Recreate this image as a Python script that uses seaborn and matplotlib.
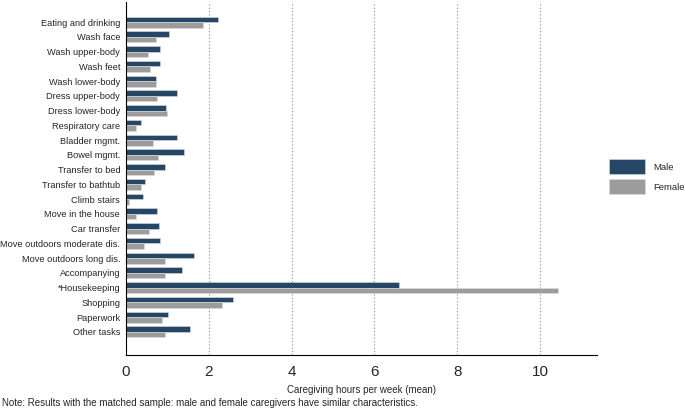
import matplotlib
matplotlib.use("Agg")
import matplotlib.pyplot as plt
import seaborn as sns
import pandas as pd

categories = ["Eating and drinking", "Wash face", "Wash upper-body", "Wash feet",
              "Wash lower-body", "Dress upper-body", "Dress lower-body", "Respiratory care",
              "Bladder mgmt.", "Bowel mgmt.", "Transfer to bed", "Transfer to bathtub",
              "Climb stairs", "Move in the house", "Car transfer",
              "Move outdoors moderate dis.", "Move outdoors long dis.", "Accompanying",
              "*Housekeeping", "Shopping", "Paperwork", "Other tasks"]
male = [2.22, 1.05, 0.83, 0.82, 0.72, 1.22, 0.97, 0.37, 1.22, 1.40, 0.95, 0.45,
        0.42, 0.76, 0.79, 0.82, 1.64, 1.34, 6.59, 2.58, 1.01, 1.54]
female = [1.86, 0.73, 0.52, 0.59, 0.72, 0.75, 0.98, 0.23, 0.65, 0.78, 0.68, 0.37,
          0.08, 0.25, 0.56, 0.44, 0.95, 0.93, 10.43, 2.33, 0.88, 0.95]
groups = ["Male", "Female"]
colors = ["#1a476f", "#9c9c9c"]
x_ticks = [0, 2, 4, 6, 8, 10]

df = pd.DataFrame({
    "task": categories * 2,
    "hours": male + female,
    "sex": ["Male"] * len(categories) + ["Female"] * len(categories),
})

sns.set_style("white")
plt.rcParams["font.family"] = ["Liberation Sans", "DejaVu Sans"]

fig = plt.figure(figsize=(6.85, 4.15), dpi=100)
ax = fig.add_axes([0.184, 0.145, 0.687, 0.85])

sns.barplot(data=df, y="task", x="hours", hue="sex", order=categories,
            hue_order=groups, palette=colors, width=0.74, orient="h",
            edgecolor="#dddddd", linewidth=0.4, ax=ax, errorbar=None)

n = len(categories)
ax.set_ylim(n - 1 + 1.56, -1.36)
ax.set_xlim(0, 11.37)
ax.set_xticks(x_ticks)
ax.set_xticklabels([str(t) for t in x_ticks], fontsize=11)
ax.tick_params(axis="x", direction="out", length=4, width=0.8, color="black", pad=3)
ax.tick_params(axis="y", length=0, pad=4.2, labelsize=6.7)
for t in x_ticks[1:]:
    ax.axvline(t, color="#8a8a8a", linestyle=(0, (1, 2)), linewidth=0.8, zorder=0)

for s in ["top", "right"]:
    ax.spines[s].set_visible(False)
ax.spines["left"].set_color("black")
ax.spines["left"].set_linewidth(0.8)
ax.spines["bottom"].set_color("black")
ax.spines["bottom"].set_linewidth(0.8)

ax.set_ylabel("")
ax.set_xlabel("Caregiving hours per week (mean)", fontsize=7, labelpad=5)

handles, labels = ax.get_legend_handles_labels()
ax.legend(handles, labels, loc="center left", bbox_to_anchor=(1.012, 0.505),
          frameon=False, fontsize=6.8, handlelength=3.8, handleheight=2.1,
          handletextpad=0.9, labelspacing=0.5, borderpad=0.2)

fig.text(0.003, 0.017, "Note: Results with the matched sample: male and female caregivers have similar characteristics.",
         fontsize=7, ha="left", va="bottom")

fig.savefig("out.png", dpi=100)
